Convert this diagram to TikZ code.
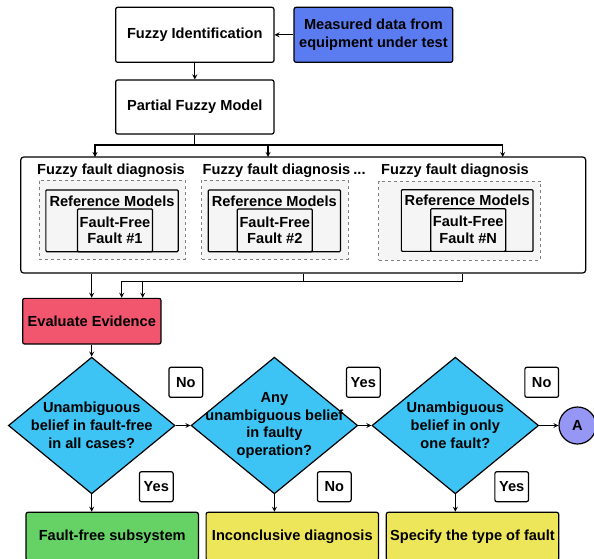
\documentclass[tikz,border=0pt]{standalone}
\usepackage{fontspec}
\setmainfont{Liberation Sans}
\usetikzlibrary{shapes.geometric}

\definecolor{inputblue}{RGB}{91,124,240}
\definecolor{evalred}{RGB}{242,85,110}
\definecolor{decisioncyan}{RGB}{62,195,245}
\definecolor{okgreen}{RGB}{102,210,102}
\definecolor{warnyellow}{RGB}{238,230,90}
\definecolor{linkviolet}{RGB}{150,150,245}

\tikzstyle{block} = [rectangle, rounded corners=2pt, draw=black, line width=1.2pt, fill=white, text centered, align=center]
\tikzstyle{process} = [block, minimum width=158.3pt, minimum height=55pt]
\tikzstyle{holder} = [rectangle, dashed, draw=gray, line width=0.5pt, fill=gray!8, minimum height=79pt]
\tikzstyle{refbox} = [rectangle, rounded corners=1pt, draw=black, line width=1.2pt, fill=gray!8, minimum width=132.3pt, minimum height=61.7pt]
\tikzstyle{faultbox} = [rectangle, rounded corners=1pt, draw=black, line width=1.2pt, fill=gray!8, minimum width=75pt, minimum height=42.7pt, inner sep=0pt, align=center, font=\fontsize{14.6}{16.6}\selectfont\bfseries]
\tikzstyle{caption} = [text height=10.7pt, text depth=3pt]
\tikzstyle{decision} = [diamond, draw=black, line width=1.2pt, fill=decisioncyan, minimum width=166.7pt, minimum height=136.7pt, inner sep=0pt]
\tikzstyle{answer} = [block, minimum width=33.7pt, minimum height=30pt, inner sep=0pt]
\tikzstyle{result} = [block, minimum width=172.4pt, minimum height=48pt]
\tikzstyle{arrow} = [line width=1.2pt,->,>=stealth]
\tikzstyle{line} = [line width=1.2pt]

\begin{document}
\begin{tikzpicture}[x=1pt, y=-1pt, font=\fontsize{14.6}{17.8}\selectfont\bfseries]
    \useasboundingbox (0,0) rectangle (594,558);

    % top part
    \node (ident) [process] at (194.8,34.8) {Fuzzy Identification};
    \node (measured) [process, fill=inputblue, minimum width=158.7pt] at (373.4,34.8) {Measured data from\\equipment under test};
    \node (partial) [process, minimum height=54pt] at (194.8,107) {Partial Fuzzy Model};

    % diagnosis banks
    \node (diag) [block, rounded corners=3pt, minimum width=565pt, minimum height=116pt] at (303.2,215) {};
    \node (holder1) [holder, minimum width=146pt] at (112,219.5) {};
    \node (holder2) [holder, minimum width=146.3pt] at (274.8,219.5) {};
    \node (holder3) [holder, minimum width=161.6pt] at (459.5,220.3) {};
    \node (title1) [caption] at (111,170.7) {Fuzzy fault diagnosis};
    \node (title2) [caption] at (276.5,170.7) {Fuzzy fault diagnosis};
    \node (dots) [caption] at (359.5,170.7) {...};
    \node (title3) [caption] at (455,170.7) {Fuzzy fault diagnosis};
    \node (ref1) [refbox] at (112,220.8) {};
    \node (ref2) [refbox] at (274.3,220.8) {};
    \node (ref3) [refbox, minimum width=131.7pt] at (467.2,220.5) {};
    \node (fault1) [faultbox] at (115,230.3) {Fault-Free\\Fault \#1};
    \node (fault2) [faultbox] at (274.8,230.3) {Fault-Free\\Fault \#2};
    \node (fault3) [faultbox] at (468.2,230) {Fault-Free\\Fault \#N};
    \node (reftext1) [caption] at (112,202.5) {Reference Models};
    \node (reftext2) [caption] at (274.3,202.5) {Reference Models};
    \node (reftext3) [caption] at (467.2,201.7) {Reference Models};

    % evaluation
    \node (evaluate) [block, fill=evalred, minimum width=138.3pt, minimum height=45.7pt] at (91.8,321.2) {Evaluate Evidence};

    \node (dec1) [decision] at (91.7,425.5) {};
    \node (dec2) [decision] at (274.4,425.5) {};
    \node (dec3) [decision] at (455.3,425.5) {};
    \node (quest1) [align=center] at (dec1) {Unambiguous\\belief in fault-free\\in all cases?};
    \node (quest2) [align=center] at (dec2) {Any\\unambiguous belief\\in faulty\\operation?};
    \node (quest3) [align=center] at (dec3) {Unambiguous\\belief in only\\one fault?};
    \node (linkA) [circle, draw=black, line width=1.2pt, fill=linkviolet, minimum size=37pt, inner sep=0pt] at (577.5,425.5) {A};

    \node (no1) [answer] at (185.8,382.3) {No};
    \node (yes1) [answer] at (156.3,486.7) {Yes};
    \node (yes2) [answer] at (363.3,382.3) {Yes};
    \node (no2) [answer] at (334.3,486.7) {No};
    \node (no3) [answer] at (541.7,382.3) {No};
    \node (yes3) [answer] at (511.7,486.7) {Yes};

    \node (out1) [result, fill=okgreen] at (112.2,536.3) {Fault-free subsystem};
    \node (out2) [result, fill=warnyellow] at (292.3,536.3) {Inconclusive diagnosis};
    \node (out3) [result, fill=warnyellow] at (472.5,536.3) {Specify the type of fault};

    \coordinate (split) at (194.8,145);
    \coordinate (in1) at (95,157);
    \coordinate (in2) at (268,157);
    \coordinate (in3) at (502.7,157);
    \coordinate (join1) at (121.7,281.7);
    \coordinate (join2) at (142.7,281.7);

    \draw [arrow] (measured) -- (ident);
    \draw [arrow] (ident) -- (partial);
    \draw [line] (partial) -- (split);
    \draw [arrow] (split) -| (in1);
    \draw [arrow] (split) -| (in3);
    \draw [arrow] (in2 |- split) -- (in2);

    \draw [arrow] (diag.south -| dec1) -- (dec1 |- evaluate.north);
    \draw [arrow] (diag.south) |- (join2) -- (join2 |- evaluate.north);
    \draw [arrow] (diag.south -| 462.7,0) |- (join1) -- (join1 |- evaluate.north);

    \draw [arrow] (evaluate.south -| dec1) -- (dec1.north);
    \draw [arrow] (dec1) -- (dec2);
    \draw [arrow] (dec2) -- (dec3);
    \draw [arrow] (dec3) -- (linkA);
    \draw [arrow] (dec1.south) -- (dec1.south |- out1.north);
    \draw [arrow] (dec2.south) -- (dec2.south |- out2.north);
    \draw [arrow] (dec3.south) -- (dec3.south |- out3.north);

\end{tikzpicture}
\end{document}
